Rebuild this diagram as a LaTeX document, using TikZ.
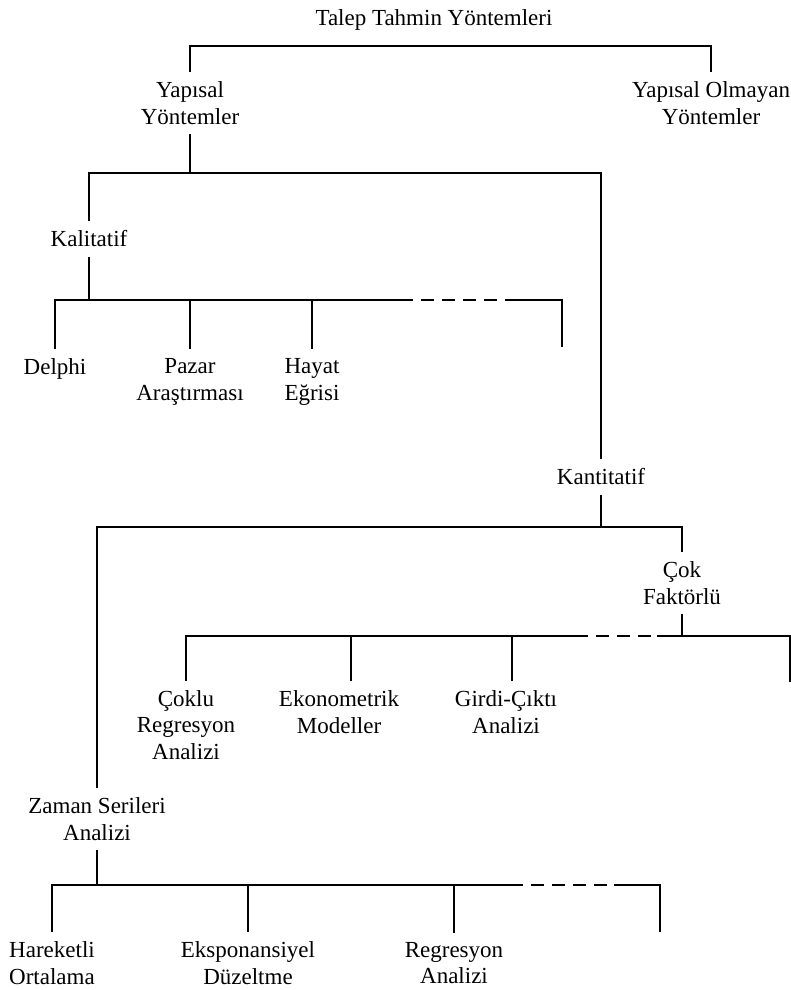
\documentclass[tikz,border=0pt]{standalone}
\usepackage{fontspec}
\setmainfont{Liberation Serif}
\usepackage{tikz}

\begin{document}
\begin{tikzpicture}[x=1pt, y=-1pt, line width=1.2pt,
        lbl/.style = {align=center, inner xsep=1pt, inner ysep=9pt, font=\fontsize{23}{26.5}\selectfont},
        gap/.style = {dash pattern=on 13pt off 8pt}]
            \useasboundingbox (0,0) rectangle (791,990);

            \node[lbl] (TTY) at (434,20) {Talep Tahmin Yöntemleri};
            \node[lbl] (YAP) at (190,103) {Yapısal\\Yöntemler};
            \node[lbl] (YMO) at (711,103) {Yapısal Olmayan\\Yöntemler};
            \node[lbl] (KAL) at (89,239) {Kalitatif};
            \node[lbl] (DEL) at (55,369) {Delphi};
            \node[lbl] (PAZ) at (190,382) {Pazar\\Araştırması};
            \node[lbl] (HAY) at (312,382) {Hayat\\Eğrisi};
            \node[lbl] (KAN) at (601,477) {Kantitatif};
            \node[lbl] (COK) at (682,583) {Çok\\Faktörlü};
            \node[lbl] (CRA) at (186,725) {Çoklu\\Regresyon\\Analizi};
            \node[lbl] (EKO) at (339,712) {Ekonometrik\\Modeller};
            \node[lbl] (GCA) at (506,712) {Girdi-Çıktı\\Analizi};
            \node[lbl] (ZSA) at (97,819) {Zaman Serileri\\Analizi};
            \node[lbl] (HOR) at (52,963) {Hareketli\\Ortalama};
            \node[lbl] (EDU) at (248,963) {Eksponansiyel\\Düzeltme};
            \node[lbl] (RAN) at (454,963) {Regresyon\\Analizi};

            \coordinate (T1) at (190,46);
            \coordinate (B1) at (190,173);
            \coordinate (B2) at (89,300);
            \coordinate (D1) at (400,300);
            \coordinate (D2) at (517,300);
            \coordinate (K4) at (562,347);
            \coordinate (B3) at (601,527);
            \coordinate (B4) at (682,636);
            \coordinate (D3) at (575,636);
            \coordinate (D4) at (657,636);
            \coordinate (K5) at (790,682);
            \coordinate (B5) at (97,885);
            \coordinate (D5) at (510,885);
            \coordinate (D6) at (614,885);
            \coordinate (K6) at (660,932);

            \draw (YAP.north) -- (T1) -| (YMO.north);

            \draw (YAP.south) -- (B1);
            \draw (KAL.north) |- (B1) -| (KAN.north);

            \draw (KAL.south) -- (B2);
            \draw (DEL.north) |- (D1);
            \draw (PAZ.north) -- (PAZ.north |- B2);
            \draw (HAY.north) -- (HAY.north |- B2);
            \draw[gap] (D1) -- (D2);
            \draw (D2) -| (K4);

            \draw (KAN.south) -- (B3);
            \draw (ZSA.north) |- (B3) -| (COK.north);

            \draw (COK.south) -- (B4);
            \draw (CRA.north) |- (D3);
            \draw ([xshift=12pt]EKO.north) -- ([xshift=12pt]EKO.north |- B4);
            \draw ([xshift=6pt]GCA.north) -- ([xshift=6pt]GCA.north |- B4);
            \draw[gap] (D3) -- (D4);
            \draw (D4) -| (K5);

            \draw (ZSA.south) -- (B5);
            \draw (HOR.north) |- (D5);
            \draw (EDU.north) -- (EDU.north |- B5);
            \draw (RAN.north) -- (RAN.north |- B5);
            \draw[gap] (D5) -- (D6);
            \draw (D6) -| (K6);
        \end{tikzpicture}
\end{document}
